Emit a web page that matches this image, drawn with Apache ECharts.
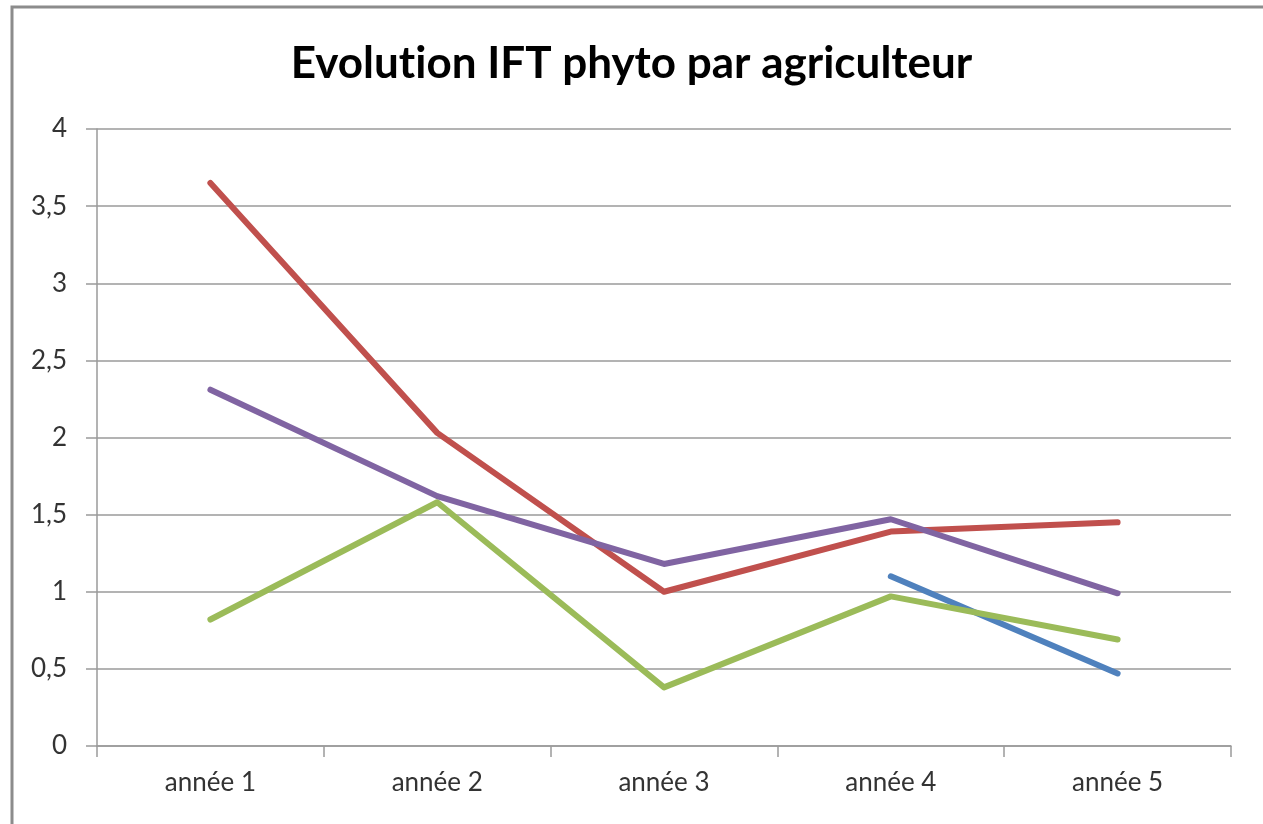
<!DOCTYPE html>
<html>
<head>
<meta charset="utf-8">
<script src="https://cdn.jsdelivr.net/npm/echarts@6/dist/echarts.min.js"></script>
<style>
  html, body { margin: 0; padding: 0; background: #fff; }
  #chart { width: 1263px; height: 824px; }
</style>
</head>
<body>
<div id="chart"></div>
<script>
// données
const categories = ['année 1', 'année 2', 'année 3', 'année 4', 'année 5']
const agriBleu = [null, null, null, 1.10, 0.47]
const agriRouge = [3.65, 2.03, 1.00, 1.39, 1.45]
const agriVert = [0.82, 1.58, 0.38, 0.97, 0.69]
const agriViolet = [2.31, 1.62, 1.18, 1.47, 0.99]

const font = 'Lato, "Open Sans", sans-serif'
const axisGrey = '#9a9a9a'

const chart = echarts.init(document.getElementById('chart'))

const lineSerie = (name, data, color) => ({
  name,
  type: 'line',
  data,
  symbol: 'none',
  connectNulls: false,
  lineStyle: { color, width: 6, cap: 'round', join: 'round' },
  itemStyle: { color },
  animation: false
})

const titleStyle = {
  fontFamily: font,
  fontSize: 44,
  fontWeight: 'bold',
  color: '#000'
}

chart.setOption({
  animation: false,
  graphic: [
    {
      type: 'rect',
      shape: { x: 12, y: 7, width: 1300, height: 900 },
      style: { fill: 'none', stroke: '#8c8c8c', lineWidth: 3 },
      silent: true
    }
  ],
  title: {
    // coupé en deux morceaux pour éviter la ligature « ti » de Lato
    text: '{t|Evolut}{t|ion IFT phyto par agriculteur}',
    left: 'center',
    top: 37,
    textStyle: { ...titleStyle, rich: { t: titleStyle } }
  },
  grid: {
    left: 97,
    right: 32,
    top: 129,
    bottom: 78,
    containLabel: false
  },
  xAxis: {
    type: 'category',
    data: categories,
    boundaryGap: true,
    axisLine: { show: true, lineStyle: { color: axisGrey, width: 1.5 } },
    axisTick: { show: true, length: 11, alignWithLabel: false, lineStyle: { color: axisGrey, width: 1.5 } },
    axisLabel: {
      fontFamily: font,
      fontSize: 26,
      color: '#333',
      margin: 24
    },
    splitLine: { show: false }
  },
  yAxis: {
    type: 'value',
    min: 0,
    max: 4,
    interval: 0.5,
    axisLine: { show: true, lineStyle: { color: axisGrey, width: 1.5 } },
    axisTick: { show: true, length: 11, lineStyle: { color: axisGrey, width: 1.5 } },
    axisLabel: {
      fontFamily: font,
      fontSize: 26,
      color: '#333',
      margin: 30,
      formatter: v => String(v).replace('.', ',')
    },
    splitLine: { show: true, lineStyle: { color: axisGrey, width: 1.5 } }
  },
  series: [
    lineSerie('Agriculteur 1', agriBleu, '#4f81bd'),
    lineSerie('Agriculteur 2', agriRouge, '#c0504d'),
    lineSerie('Agriculteur 3', agriVert, '#9bbb59'),
    lineSerie('Agriculteur 4', agriViolet, '#8064a2')
  ]
})

window.addEventListener('resize', () => chart.resize())
</script>
</body>
</html>
